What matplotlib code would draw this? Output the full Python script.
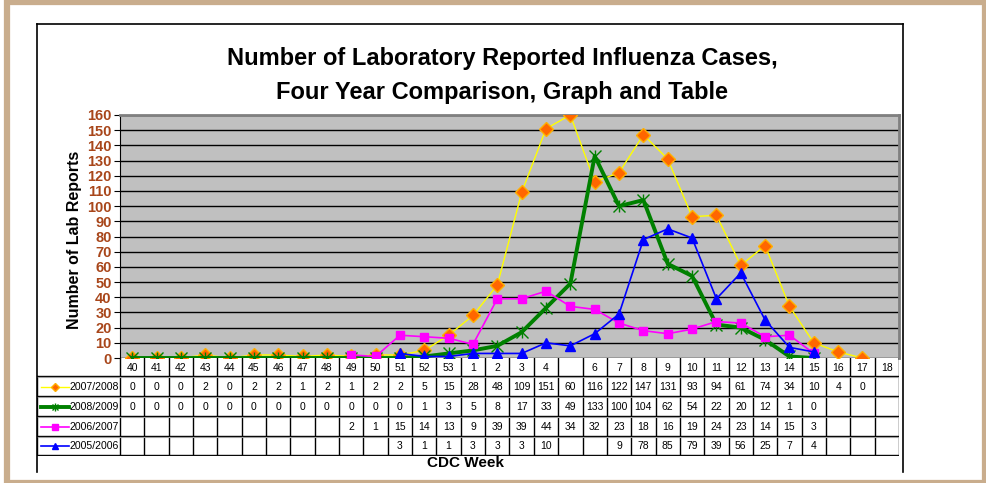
import matplotlib
matplotlib.use("Agg")
import matplotlib.pyplot as plt
from matplotlib.patches import Rectangle
from matplotlib.lines import Line2D

plt.rcParams['font.family'] = ['Liberation Sans', 'DejaVu Sans']

# ===== DATA =====
weeks = ["40", "41", "42", "43", "44", "45", "46", "47", "48", "49", "50", "51", "52", "53",
         "1", "2", "3", "4", "", "6", "7", "8", "9", "10", "11", "12", "13", "14", "15", "16", "17", "18"]

season_names = ["2007/2008", "2008/2009", "2006/2007", "2005/2006"]

# values that are plotted (None = no point)
s0708 = [0, 0, 0, 2, 0, 2, 2, 1, 2, 1, 2, 2, 5, 15, 28, 48, 109, 151, 160, 116, 122, 147, 131,
         93, 94, 61, 74, 34, 10, 4, 0, None]
s0809 = [0, 0, 0, 0, 0, 0, 0, 0, 0, 0, 0, 0, 1, 3, 5, 8, 17, 33, 49, 133, 100, 104, 62,
         54, 22, 20, 12, 1, 0, None, None, None]
s0607 = [None] * 9 + [2, 1, 15, 14, 13, 9, 39, 39, 44, 34, 32, 23, 18, 16,
                      19, 24, 23, 14, 15, 3, None, None, None]
s0506 = [None] * 11 + [3, 1, 1, 3, 3, 3, 10, 8, 16, 29, 78, 85,
                       79, 39, 56, 25, 7, 4, None, None, None]

# text shown in the data table (as printed under the chart)
t0708 = ["0", "0", "0", "2", "0", "2", "2", "1", "2", "1", "2", "2", "5", "15", "28", "48", "109", "151",
         "60", "116", "122", "147", "131", "93", "94", "61", "74", "34", "10", "4", "0", ""]
t0809 = ["0"] * 12 + ["1", "3", "5", "8", "17", "33", "49", "133", "100", "104", "62",
                      "54", "22", "20", "12", "1", "0", "", "", ""]
t0607 = [""] * 9 + ["2", "1", "15", "14", "13", "9", "39", "39", "44", "34", "32", "23", "18", "16",
                    "19", "24", "23", "14", "15", "3", "", "", ""]
t0506 = [""] * 11 + ["3", "1", "1", "3", "3", "3", "10", "", "", "9", "78", "85",
                     "79", "39", "56", "25", "7", "4", "", "", ""]

W, H = 987, 483
fig = plt.figure(figsize=(W / 100, H / 100), dpi=100)
fig.patch.set_facecolor("white")


def fx(px):
    return px / W


def fy(py):
    return 1 - py / H


def nan(vals):
    return [v if v is not None else float("nan") for v in vals]


# ===== FRAMES =====
beige = "#C9AD8D"
fig.patches.append(Rectangle((fx(7), fy(483)), fx(978), 483 / H - 2 / H, transform=fig.transFigure,
                             facecolor="none", edgecolor=beige, linewidth=4.5, zorder=-5))
fig.add_artist(Line2D([fx(37), fx(37)], [fy(472), fy(24)], color="black", lw=1.2))
fig.add_artist(Line2D([fx(37), fx(903)], [fy(24), fy(24)], color="black", lw=1.2))
fig.add_artist(Line2D([fx(903), fx(903)], [fy(24), fy(472)], color="black", lw=1.2))

# ===== TITLE =====
fig.text(fx(502), fy(58), "Number of Laboratory Reported Influenza Cases,", ha="center", va="center",
         fontsize=17, fontweight="bold")
fig.text(fx(502), fy(93), "Four Year Comparison, Graph and Table", ha="center", va="center",
         fontsize=17, fontweight="bold")

# ===== CHART =====
ax = fig.add_axes([fx(120), fy(358), fx(899 - 120), (358 - 115) / H])
ax.set_facecolor("#C0C0C0")
x = list(range(len(weeks)))

ax.plot(x, nan(s0708), color="#FFFF00", lw=1,
        marker="D", markersize=7, markerfacecolor="#FF6600", markeredgecolor="#FFB000", zorder=3)
ax.plot(x, nan(s0809), color="#008000", lw=2.8, zorder=4)
ax.plot(x, nan(s0809), linestyle="none", marker="x", markersize=8, markeredgecolor="#008000",
        markeredgewidth=1, zorder=4)
ax.plot(x, nan(s0809), linestyle="none", marker="|", markersize=9, markeredgecolor="#008000",
        markeredgewidth=1, zorder=4)
ax.plot(x, nan(s0607), color="#FF00FF", lw=1.2,
        marker="s", markersize=6, markerfacecolor="#FF00FF", markeredgecolor="#FF00FF", zorder=5)
ax.plot(x, nan(s0506), color="#0000FF", lw=1.2,
        marker="^", markersize=6.5, markerfacecolor="#0000FF", markeredgecolor="#0000FF", zorder=6)

ax.set_xlim(-0.5, len(weeks) - 0.5)
ax.set_ylim(0, 160)
ax.set_yticks(range(0, 161, 10))
ax.set_xticks([])
ax.tick_params(axis="y", colors="black", length=4, labelsize=10.5, labelcolor="#A8461A", pad=2)
for lab in ax.get_yticklabels():
    lab.set_fontweight("bold")
ax.grid(axis="y", color="black", lw=1)
ax.set_axisbelow(True)
for side in ["top", "right"]:
    ax.spines[side].set_color("#808080")
    ax.spines[side].set_linewidth(2)
ax.spines["left"].set_color("black")
ax.spines["bottom"].set_visible(False)
fig.text(fx(75), fy(240), "Number of Lab Reports", rotation=90, ha="center", va="center",
         fontsize=11.5, fontweight="bold")

# ===== TABLE =====
colw = (899 - 120) / len(weeks)
left_edge = -0.5 - (120 - 37) / colw
tab = fig.add_axes([fx(37), fy(456), fx(899 - 37), (456 - 358) / H])
tab.set_xlim(left_edge, len(weeks) - 0.5)
tab.set_ylim(456, 358)
tab.axis("off")

rows_y = [358, 376, 396, 416, 436, 455]
for i in range(len(weeks) + 1):
    tab.plot([i - 0.5, i - 0.5], [rows_y[0], rows_y[-1]], color="black", lw=1)
tab.plot([left_edge, left_edge], [rows_y[1], rows_y[-1]], color="black", lw=1)
for r in rows_y[1:]:
    tab.plot([left_edge, len(weeks) - 0.5], [r, r], color="black", lw=1)
    tab.plot([left_edge, len(weeks) - 0.5], [r + 1.2, r + 1.2], color="#A0A0A0", lw=0.8)
for i, w in enumerate(weeks):
    tab.text(i, (rows_y[0] + rows_y[1]) / 2 + 1, w, ha="center", va="center", fontsize=7.5)

row_texts = [t0708, t0809, t0607, t0506]
line_styles = [
    dict(color="#FFFF00", lw=1),
    dict(color="#008000", lw=2.8),
    dict(color="#FF00FF", lw=1.2),
    dict(color="#0000FF", lw=1.2),
]
marker_styles = [
    [dict(marker="D", markersize=4, markerfacecolor="#FF6600", markeredgecolor="#FFB000")],
    [dict(marker="x", markersize=5, markeredgecolor="#008000"),
     dict(marker="|", markersize=5.5, markeredgecolor="#008000")],
    [dict(marker="s", markersize=4, markerfacecolor="#FF00FF", markeredgecolor="#FF00FF")],
    [dict(marker="^", markersize=4.5, markerfacecolor="#0000FF", markeredgecolor="#0000FF")],
]
for k, (name, texts) in enumerate(zip(season_names, row_texts)):
    yc = (rows_y[k + 1] + rows_y[k + 2]) / 2 + 1
    x0 = left_edge + 4 / colw
    x1 = left_edge + 32 / colw
    tab.plot([x0, x1], [yc, yc], **line_styles[k])
    for ms in marker_styles[k]:
        tab.plot([(x0 + x1) / 2], [yc], linestyle="none", **ms)
    tab.text(x1 + 0.5 / colw, yc, name, ha="left", va="center", fontsize=7.6)
    for i, t in enumerate(texts):
        tab.text(i, yc, t, ha="center", va="center", fontsize=7.5)

fig.text(fx(466), fy(463), "CDC Week", ha="center", va="center", fontsize=11, fontweight="bold")

fig.savefig("out.png", dpi=100)
